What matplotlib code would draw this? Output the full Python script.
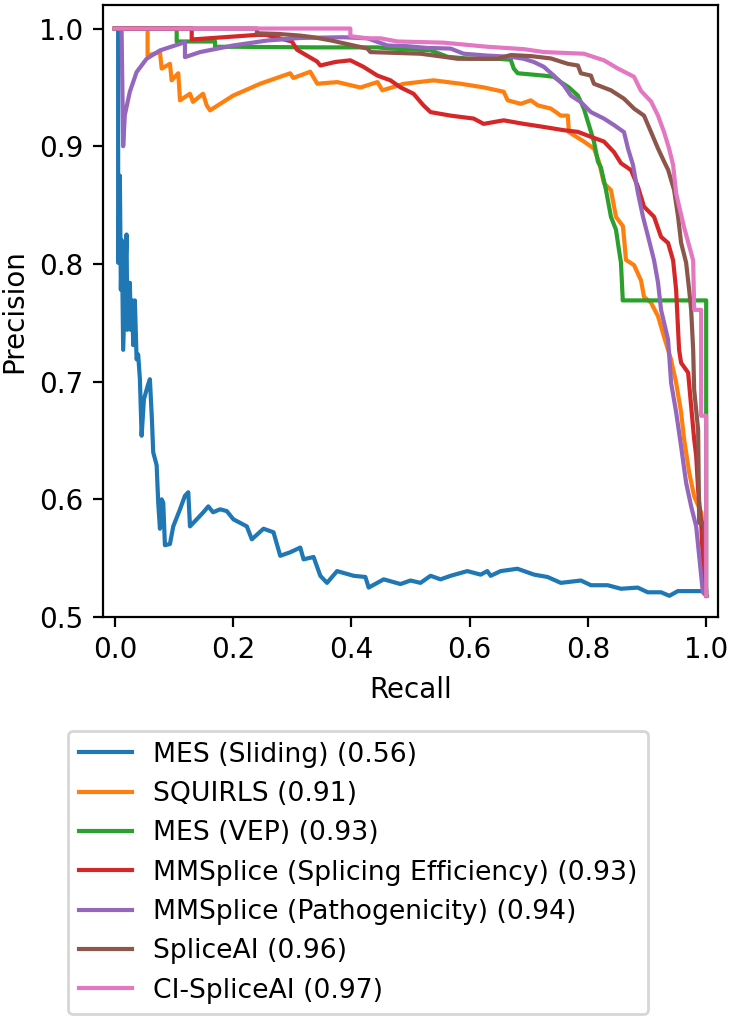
import matplotlib
matplotlib.use("Agg")
import matplotlib.pyplot as plt

# precision-recall curves
labels = [
    "MES (Sliding) (0.56)",
    "SQUIRLS (0.91)",
    "MES (VEP) (0.93)",
    "MMSplice (Splicing Efficiency) (0.93)",
    "MMSplice (Pathogenicity) (0.94)",
    "SpliceAI (0.96)",
    "CI-SpliceAI (0.97)",
]

mes_sliding_recall = [0.0056, 0.0056, 0.0085, 0.0102, 0.0119, 0.0141, 0.0198, 0.0212, 0.0254, 0.0271,
                      0.0297, 0.0310, 0.0339, 0.0368, 0.0395, 0.0424, 0.0453, 0.0492, 0.0559, 0.0593,
                      0.0627, 0.0649, 0.0707, 0.0734, 0.0763, 0.0792, 0.0819, 0.0847, 0.0932, 0.0988,
                      0.1102, 0.1186, 0.1242, 0.1271, 0.1385, 0.1497, 0.1581, 0.1661, 0.1780, 0.1893,
                      0.2005, 0.2232, 0.2317, 0.2514, 0.2683, 0.2797, 0.2966, 0.3136, 0.3192, 0.3361,
                      0.3475, 0.3588, 0.3758, 0.4039, 0.4237, 0.4293, 0.4547, 0.4831, 0.5, 0.5169,
                      0.5339, 0.5508, 0.5678, 0.5961, 0.6186, 0.6299, 0.6356, 0.6525, 0.6808, 0.709,
                      0.7317, 0.7542, 0.7881, 0.8051, 0.8334, 0.8559, 0.8842, 0.9012, 0.9237, 0.9378,
                      0.952, 0.9915, 1.0]
mes_sliding_precision = [1.0, 0.801, 0.875, 0.778, 0.820, 0.727, 0.825, 0.744, 0.784, 0.744,
                         0.769, 0.731, 0.769, 0.719, 0.723, 0.702, 0.654, 0.685, 0.697, 0.702,
                         0.668, 0.640, 0.629, 0.597, 0.575, 0.600, 0.597, 0.561, 0.562, 0.577,
                         0.5915, 0.603, 0.606, 0.577, 0.583, 0.589, 0.594, 0.589, 0.5915, 0.590,
                         0.583, 0.577, 0.566, 0.575, 0.572, 0.552, 0.555, 0.559, 0.549, 0.551,
                         0.535, 0.529, 0.539, 0.535, 0.534, 0.525, 0.532, 0.528, 0.531, 0.529,
                         0.535, 0.532, 0.535, 0.539, 0.536, 0.539, 0.535, 0.539, 0.541, 0.536,
                         0.534, 0.529, 0.531, 0.527, 0.527, 0.524, 0.525, 0.521, 0.521, 0.518,
                         0.522, 0.522, 0.522]

squirls_recall = [0.0, 0.0554, 0.0554, 0.0763, 0.0792, 0.0932, 0.0961, 0.1073, 0.1102, 0.1271,
                  0.1322, 0.1492, 0.1554, 0.1610, 0.2, 0.2458, 0.2966, 0.3017, 0.3305, 0.3424,
                  0.3763, 0.4153, 0.4441, 0.4525, 0.4881, 0.5390, 0.5847, 0.6237, 0.6576, 0.6644,
                  0.6864, 0.7034, 0.7153, 0.7373, 0.7542, 0.7661, 0.7678, 0.7932, 0.8102, 0.8186,
                  0.8271, 0.8390, 0.8475, 0.8593, 0.8644, 0.8780, 0.8898, 0.8949, 0.9068, 0.9186,
                  0.9288, 0.9407, 0.9492, 0.9576, 0.9627, 0.9712, 0.9797, 0.9915, 0.9966, 1.0]
squirls_precision = [1.0, 1.0, 0.977, 0.980, 0.966, 0.970, 0.956, 0.962, 0.939, 0.9446,
                     0.9377, 0.9446, 0.9347, 0.9305, 0.943, 0.9531, 0.962, 0.958, 0.9633, 0.9531,
                     0.9545, 0.9499, 0.9545, 0.9475, 0.953, 0.956, 0.9531, 0.950, 0.9463, 0.939,
                     0.936, 0.939, 0.9347, 0.932, 0.926, 0.926, 0.912, 0.904, 0.898, 0.887,
                     0.8686, 0.8627, 0.840, 0.832, 0.8034, 0.799, 0.786, 0.772, 0.767, 0.7555,
                     0.738, 0.7186, 0.699, 0.674, 0.651, 0.623, 0.6025, 0.589, 0.566, 0.518]

mes_vep_recall = [0.0, 0.1046, 0.1046, 0.1695, 0.1695, 0.2068, 0.3305, 0.4441, 0.4661, 0.5339,
                  0.5627, 0.5966, 0.6475, 0.6695, 0.6746, 0.6814, 0.7254, 0.7424, 0.7542, 0.7678,
                  0.7831, 0.7932, 0.8017, 0.8102, 0.8169, 0.822, 0.8305, 0.839, 0.8475, 0.8525,
                  0.8559, 0.8588, 0.8588, 1.0, 1.0, 1.0]
mes_vep_precision = [1.0, 1.0, 0.989, 0.989, 0.9845, 0.9845, 0.984, 0.984, 0.983, 0.9815,
                     0.976, 0.9745, 0.9743, 0.9735, 0.966, 0.962, 0.960, 0.959, 0.9545, 0.950,
                     0.943, 0.932, 0.918, 0.904, 0.887, 0.882, 0.863, 0.840, 0.829, 0.812,
                     0.801, 0.771, 0.769, 0.769, 0.672, 0.518]

mmsplice_se_recall = [0.0, 0.130, 0.130, 0.2402, 0.2559, 0.2995, 0.308, 0.3249, 0.3419, 0.3475,
                      0.3729, 0.3983, 0.4203, 0.4441, 0.4661, 0.4831, 0.5051, 0.522, 0.5339, 0.5678,
                      0.6068, 0.6237, 0.6576, 0.6915, 0.7254, 0.7593, 0.7831, 0.8051, 0.8271, 0.8441,
                      0.8559, 0.8729, 0.8847, 0.8949, 0.9119, 0.9237, 0.9356, 0.9441, 0.9492, 0.9525,
                      0.9542, 0.9576, 0.9695, 0.9746, 0.9797, 0.9831, 0.9864, 0.9915, 0.9944, 1.0]
mmsplice_se_precision = [1.0, 1.0, 0.9907, 0.9946, 0.9946, 0.989, 0.982, 0.977, 0.972, 0.9686,
                         0.9716, 0.973, 0.9675, 0.960, 0.956, 0.950, 0.9446, 0.9347, 0.929, 0.926,
                         0.9235, 0.919, 0.922, 0.919, 0.9164, 0.9136, 0.9122, 0.908, 0.904, 0.895,
                         0.8856, 0.8797, 0.8655, 0.8486, 0.840, 0.823, 0.8178, 0.803, 0.778, 0.744,
                         0.727, 0.716, 0.7076, 0.679, 0.651, 0.637, 0.608, 0.580, 0.549, 0.518]

mmsplice_path_recall = [0.0, 0.0114, 0.0141, 0.0169, 0.0254, 0.0368, 0.0537, 0.0763, 0.1102, 0.1186,
                        0.1186, 0.1441, 0.2, 0.2571, 0.3136, 0.3864, 0.4271, 0.461, 0.4949, 0.5288,
                        0.5678, 0.5898, 0.6305, 0.6695, 0.6915, 0.7085, 0.7254, 0.7424, 0.7593, 0.7712,
                        0.7881, 0.8051, 0.8271, 0.8441, 0.861, 0.8678, 0.8763, 0.8847, 0.8932, 0.9034,
                        0.9119, 0.9186, 0.9237, 0.9356, 0.9407, 0.9492, 0.9576, 0.9661, 0.9746, 0.9831,
                        0.9944, 1.0]
mmsplice_path_precision = [1.0, 1.0, 0.900, 0.9265, 0.9463, 0.963, 0.9743, 0.9814, 0.987, 0.9885,
                           0.9757, 0.980, 0.9856, 0.9898, 0.992, 0.9926, 0.9917, 0.9856, 0.985, 0.9835,
                           0.983, 0.9786, 0.977, 0.976, 0.9743, 0.9716, 0.9675, 0.960, 0.9517, 0.943,
                           0.9375, 0.929, 0.9235, 0.918, 0.912, 0.898, 0.884, 0.860, 0.840, 0.820,
                           0.803, 0.784, 0.761, 0.7356, 0.699, 0.674, 0.645, 0.614, 0.594, 0.577,
                           0.521, 0.518]

spliceai_recall = [0.0, 0.2402, 0.2402, 0.2741, 0.3136, 0.3356, 0.3644, 0.4271, 0.4322, 0.5169,
                   0.5559, 0.5797, 0.6475, 0.6695, 0.7034, 0.7373, 0.7661, 0.7831, 0.7881, 0.8051,
                   0.8102, 0.839, 0.861, 0.878, 0.8949, 0.9068, 0.9186, 0.9288, 0.9356, 0.9458,
                   0.9525, 0.9576, 0.9661, 0.9712, 0.9746, 0.978, 0.9797, 0.9864, 0.9881, 0.9966,
                   1.0]
spliceai_precision = [1.0, 1.0, 0.996, 0.9955, 0.994, 0.9926, 0.990, 0.983, 0.980, 0.9786,
                      0.976, 0.9743, 0.9743, 0.9775, 0.9766, 0.9746, 0.970, 0.9686, 0.962, 0.960,
                      0.9531, 0.9475, 0.9404, 0.932, 0.926, 0.912, 0.898, 0.887, 0.880, 0.8627,
                      0.840, 0.818, 0.801, 0.778, 0.761, 0.727, 0.693, 0.659, 0.580, 0.580,
                      0.518]

ci_spliceai_recall = [0.0, 0.3983, 0.3983, 0.4271, 0.4492, 0.478, 0.5559, 0.6305, 0.6915, 0.7254,
                      0.7932, 0.8271, 0.8508, 0.878, 0.8898, 0.9068, 0.9186, 0.9288, 0.9373, 0.9441,
                      0.9492, 0.9627, 0.978, 0.9797, 0.9915, 0.9915, 1.0, 1.0]
ci_spliceai_precision = [1.0, 1.0, 0.9935, 0.9917, 0.9917, 0.989, 0.988, 0.9845, 0.9825, 0.980,
                         0.9786, 0.973, 0.966, 0.959, 0.947, 0.938, 0.926, 0.912, 0.898, 0.884,
                         0.860, 0.831, 0.803, 0.761, 0.761, 0.671, 0.671, 0.518]

curves = [
    (mes_sliding_recall, mes_sliding_precision),
    (squirls_recall, squirls_precision),
    (mes_vep_recall, mes_vep_precision),
    (mmsplice_se_recall, mmsplice_se_precision),
    (mmsplice_path_recall, mmsplice_path_precision),
    (spliceai_recall, spliceai_precision),
    (ci_spliceai_recall, ci_spliceai_precision),
]

W, H, DPI = 729, 1025, 200
fig = plt.figure(figsize=(W / DPI, H / DPI), dpi=DPI)
ax = fig.add_axes([103 / W, 1 - 617 / H, 615 / W, 612 / H])

for (rec, prec), label in zip(curves, labels):
    ax.plot(rec, prec, label=label)

ax.set_xlim(-0.02, 1.02)
ax.set_ylim(0.5, 1.02)
ax.set_xlabel("Recall")
ax.set_ylabel("Precision")

fig.legend(loc="upper left", bbox_to_anchor=(68 / W, 1 - 731 / H), borderaxespad=0,
           fontsize=9.6)

fig.savefig("out.png", dpi=DPI)
